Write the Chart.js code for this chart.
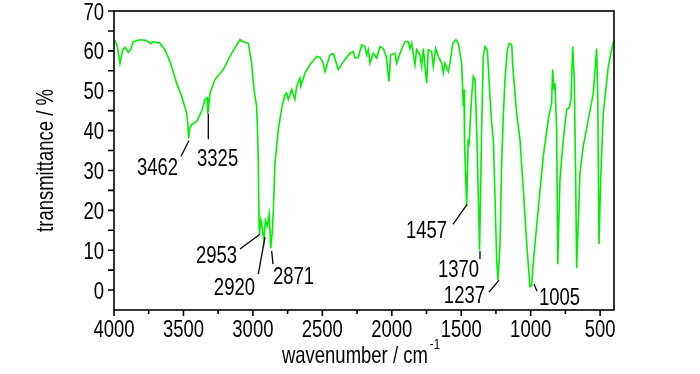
<!DOCTYPE html>
<html>
<head>
<meta charset="utf-8">
<script src="https://cdn.jsdelivr.net/npm/chart.js@4.4.0/dist/chart.umd.min.js"></script>
<style>
  html, body { margin: 0; padding: 0; background: #fff; }
  #wrap { width: 700px; height: 374px; }
</style>
</head>
<body>
<div id="wrap"><canvas id="chart"></canvas></div>
<script>
// IR spectrum
const wavenumbers = [
  3995, 3976, 3957, 3937, 3921, 3897, 3880, 3861, 3813, 3765, 3736, 3717, 3669, 3633, 3597, 3549, 3513, 3477,
  3468, 3462, 3455, 3441, 3405, 3369, 3345, 3330, 3325, 3321, 3309, 3273, 3213, 3165, 3093, 3069, 3033, 3009,
  2992, 2973, 2965, 2961, 2956, 2953, 2942, 2932, 2920, 2910, 2896, 2883, 2871, 2862, 2853, 2841, 2817, 2793,
  2769, 2757, 2745, 2721, 2697, 2685, 2661, 2655, 2625, 2589, 2541, 2517, 2498, 2481, 2445, 2421, 2385, 2349,
  2301, 2277, 2265, 2241, 2217, 2193, 2181, 2169, 2157, 2133, 2109, 2085, 2061, 2040, 2020, 2008, 1977, 1965,
  1941, 1905, 1881, 1869, 1857, 1833, 1821, 1797, 1785, 1773, 1749, 1737, 1713, 1701, 1684, 1665, 1641, 1629,
  1617, 1593, 1581, 1561, 1538, 1521, 1497, 1485, 1480, 1476, 1461, 1450, 1445, 1440, 1425, 1413, 1401, 1388,
  1377, 1368, 1353, 1341, 1329, 1312, 1293, 1281, 1269, 1257, 1245, 1236, 1221, 1209, 1197, 1185, 1168, 1153,
  1136, 1129, 1101, 1077, 1053, 1029, 1005, 993, 981, 957, 909, 873, 849, 842, 832, 825, 813, 805,
  789, 765, 741, 722, 710, 697, 686, 676, 669, 645, 621, 585, 549, 525, 517, 508, 496, 477,
  441, 405
];
const transmittance = [
  62.8, 61.1, 56.9, 60.3, 60.9, 59.6, 60.3, 62.3, 62.8, 62.6, 61.8, 62.3, 61.9, 60.3, 57.3, 51.9, 48.6, 44.4,
  41.5, 38.0, 40.5, 41.5, 42.3, 44.8, 47.8, 48.2, 44.2, 45.0, 49.4, 52.8, 55.3, 58.6, 62.8, 62.3, 61.9, 56.9,
  50.3, 46.0, 38.0, 31.9, 17.8, 14.0, 17.5, 15.5, 12.5, 17.5, 16.1, 19.0, 10.5, 14.0, 19.4, 31.9, 40.3, 45.5,
  49.0, 49.4, 47.8, 50.3, 47.8, 51.1, 53.2, 51.1, 54.4, 56.5, 58.6, 58.4, 57.3, 54.8, 59.0, 59.3, 55.3, 57.3,
  59.4, 59.8, 58.2, 58.4, 61.5, 61.1, 59.0, 60.3, 56.9, 59.4, 58.2, 61.1, 60.6, 58.6, 52.3, 59.0, 59.4, 56.9,
  59.4, 62.3, 62.3, 60.6, 61.9, 56.5, 60.3, 59.0, 56.1, 60.6, 51.9, 60.3, 59.8, 56.1, 60.6, 58.6, 56.9, 54.4,
  56.9, 54.8, 56.9, 61.9, 62.8, 61.9, 56.9, 46.1, 50.3, 36.9, 21.0, 37.8, 36.0, 39.0, 48.6, 53.6, 52.8, 39.4,
  23.6, 10.0, 40.3, 58.6, 61.1, 60.3, 48.6, 41.9, 37.8, 23.6, 7.8, 2.5, 11.1, 31.9, 43.6, 52.8, 60.3, 61.9,
  61.5, 56.1, 44.4, 37.8, 25.3, 11.9, 0.8, 1.1, 6.9, 16.0, 33.6, 42.8, 46.9, 55.3, 50.3, 51.9, 40.3, 6.5,
  27.8, 37.8, 45.3, 45.7, 47.8, 61.1, 52.8, 27.8, 5.5, 29.4, 36.1, 42.8, 49.4, 60.6, 48.6, 11.5, 27.8, 44.4,
  56.1, 62.3
];

const xTicks = [4000, 3500, 3000, 2500, 2000, 1500, 1000, 500];
const xMinorTicks = [3750, 3250, 2750, 2250, 1750, 1250, 750];
const yTicks = [70, 60, 50, 40, 30, 20, 10, 0];
const yMinorTicks = [65, 55, 45, 35, 25, 15, 5];

// peak labels: text, line from (wn,T) to (wn,T), text centre (wn,T), alignment
const peakLabels = ["3462", "3325", "2953", "2920", "2871", "1457", "1370", "1237", "1005"];
const peakLines = [
  [3460, 37.5, 3518, 33.5],
  [3321, 44.2, 3321, 37.8],
  [3093, 10.3, 2949, 14.0],
  [2961, 4.0, 2913, 13.3],
  [2865, 9.8, 2855, 6.5],
  [1559, 16.5, 1458, 21.5],
  [1365, 9.8, 1365, 7.8],
  [1300, -0.5, 1228, 2.5],
  [976, 1.5, 954, -0.3]
];
const peakTextAt = [
  [3539, 31.0, "right"],
  [3402, 33.3, "left"],
  [3114, 9.0, "right"],
  [2985, 1.0, "right"],
  [2855, 3.8, "left"],
  [1602, 15.3, "right"],
  [1372, 5.5, "right"],
  [1329, -1.0, "right"],
  [940, -1.5, "left"]
];

const FONT = '"Liberation Sans", Arial, sans-serif';
const SQUEEZE = 0.77;   // the original lettering is a narrow face
const CAP = 8.6;        // half the digit height at 24px

// draw horizontally condensed text; x is the anchor point
function narrowText(ctx, txt, x, y, align, size) {
  ctx.save();
  ctx.font = size + "px " + FONT;
  ctx.textAlign = align;
  ctx.textBaseline = "alphabetic";
  ctx.translate(x, y);
  ctx.scale(SQUEEZE, 1);
  ctx.fillText(txt, 0, 0);
  ctx.restore();
}

const frameAndLabels = {
  id: "frameAndLabels",
  afterDraw(chart) {
    const { ctx, chartArea: a, scales: { x, y } } = chart;
    ctx.save();
    ctx.strokeStyle = "#000";
    ctx.fillStyle = "#000";
    ctx.lineWidth = 1.6;
    ctx.strokeRect(a.left, a.top, a.right - a.left, a.bottom - a.top);

    // tick marks
    ctx.beginPath();
    xTicks.forEach(v => { const p = x.getPixelForValue(v); ctx.moveTo(p, a.bottom); ctx.lineTo(p, a.bottom + 6); });
    xMinorTicks.forEach(v => { const p = x.getPixelForValue(v); ctx.moveTo(p, a.bottom); ctx.lineTo(p, a.bottom + 4); });
    yTicks.concat(yMinorTicks).forEach(v => { const p = y.getPixelForValue(v); ctx.moveTo(a.left, p); ctx.lineTo(a.left - 6, p); });
    ctx.stroke();

    // tick labels
    xTicks.forEach(v => narrowText(ctx, String(v), x.getPixelForValue(v), a.bottom + 27, "center", 24));
    yTicks.forEach(v => narrowText(ctx, String(v), a.left - 10, y.getPixelForValue(v) + CAP, "right", 24));

    // peak callouts
    ctx.lineWidth = 1.3;
    peakLabels.forEach((txt, i) => {
      const l = peakLines[i];
      ctx.beginPath();
      ctx.moveTo(x.getPixelForValue(l[0]), y.getPixelForValue(l[1]));
      ctx.lineTo(x.getPixelForValue(l[2]), y.getPixelForValue(l[3]));
      ctx.stroke();
      const t = peakTextAt[i];
      narrowText(ctx, txt, x.getPixelForValue(t[0]), y.getPixelForValue(t[1]) + CAP, t[2], 24);
    });

    // x axis title with superscript
    const main = "wavenumber / cm";
    ctx.font = "24px " + FONT;
    const w1 = ctx.measureText(main).width * SQUEEZE;
    ctx.font = "15px " + FONT;
    const w2 = ctx.measureText("-1").width * SQUEEZE;
    const startX = (a.left + a.right) / 2 - (w1 + w2) / 2 - 4;
    narrowText(ctx, main, startX, 363, "left", 24);
    narrowText(ctx, "-1", startX + w1 + 2, 349, "left", 15);

    // y axis title, rotated
    ctx.save();
    ctx.translate(53, (a.top + a.bottom) / 2);
    ctx.rotate(-Math.PI / 2);
    narrowText(ctx, "transmittance / %", 0, 0, "center", 24);
    ctx.restore();

    ctx.restore();
  }
};

const points = wavenumbers.map((wn, i) => ({ x: wn, y: transmittance[i] }));

new Chart(document.getElementById("chart"), {
  type: "line",
  data: {
    datasets: [{
      data: points,
      borderColor: "#00ee00",
      borderWidth: 1.6,
      pointRadius: 0,
      tension: 0,
      fill: false
    }]
  },
  options: {
    responsive: true,
    maintainAspectRatio: false,
    animation: false,
    events: [],
    layout: { padding: { top: 11, right: 86, left: 0, bottom: 0 } },
    plugins: { legend: { display: false }, tooltip: { enabled: false } },
    scales: {
      x: {
        type: "linear",
        reverse: true,
        min: 400,
        max: 4000,
        grid: { display: false, drawTicks: false },
        border: { display: false },
        afterBuildTicks: s => { s.ticks = xTicks.map(v => ({ value: v })); },
        afterFit: s => { s.height = 64; },
        ticks: { display: false }
      },
      y: {
        min: -5,
        max: 70,
        grid: { display: false, drawTicks: false },
        border: { display: false },
        afterBuildTicks: s => { s.ticks = yTicks.map(v => ({ value: v })); },
        afterFit: s => { s.width = 114; },
        ticks: { display: false }
      }
    }
  },
  plugins: [frameAndLabels]
});
</script>
</body>
</html>
